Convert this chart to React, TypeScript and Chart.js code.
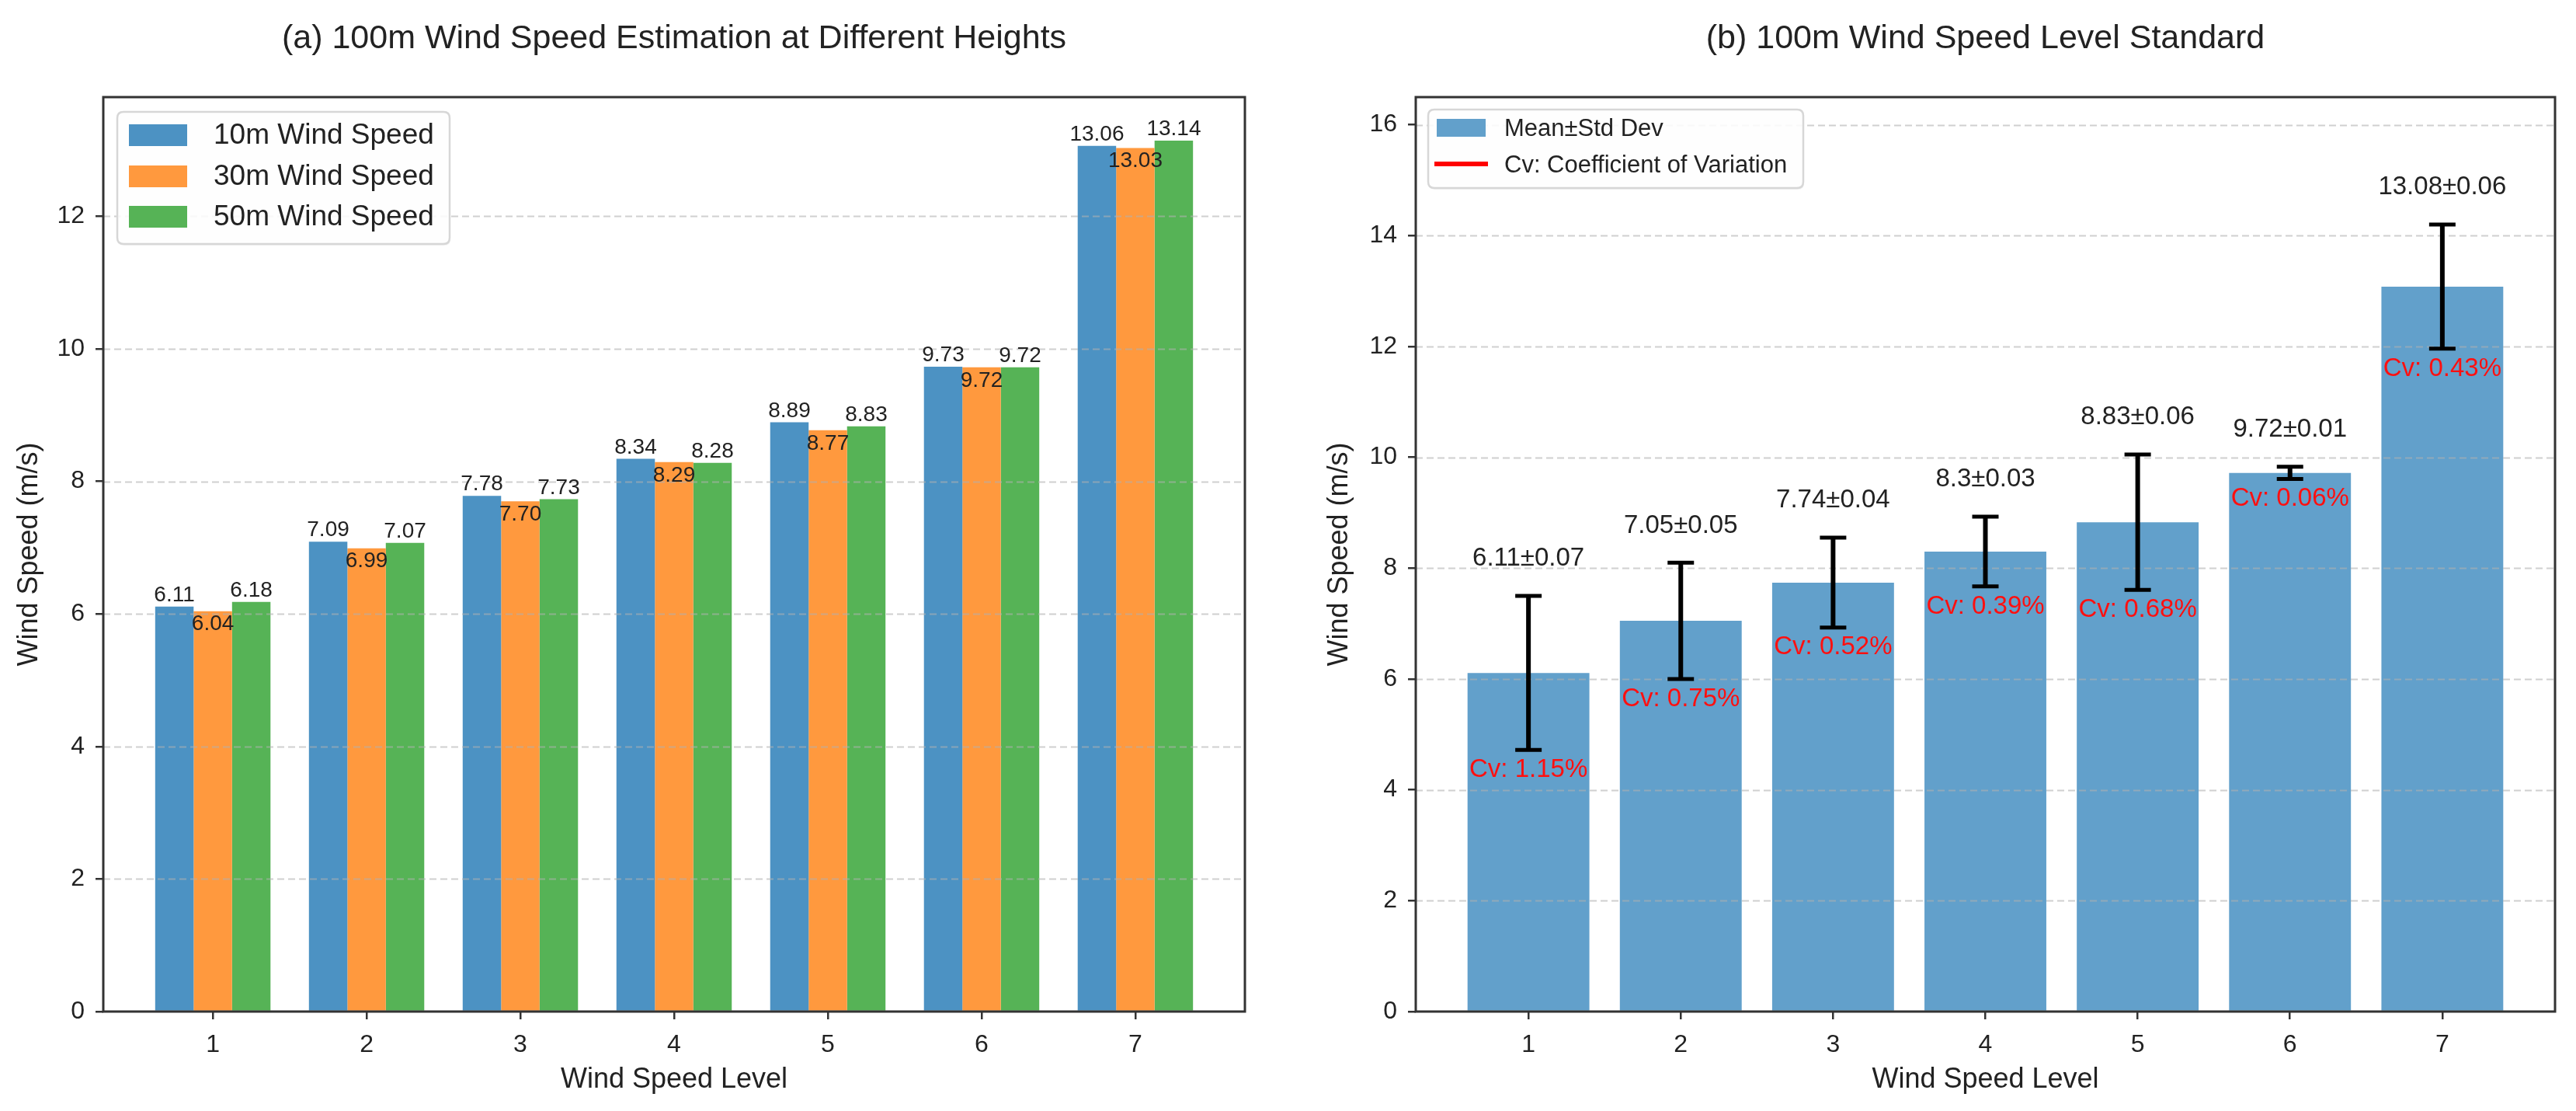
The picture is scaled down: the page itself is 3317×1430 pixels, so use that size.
import React, { useEffect, useRef } from "react";
import { Chart, registerables } from "chart.js";
Chart.register(...registerables);

// ---------- data ----------
const levels = [1, 2, 3, 4, 5, 6, 7];
const speed10 = [6.11, 7.09, 7.78, 8.34, 8.89, 9.73, 13.06];
const speed30 = [6.04, 6.99, 7.7, 8.29, 8.77, 9.72, 13.03];
const speed50 = [6.18, 7.07, 7.73, 8.28, 8.83, 9.72, 13.14];
const seriesNames = ["10m Wind Speed", "30m Wind Speed", "50m Wind Speed"];
const levelMean = [6.11, 7.05, 7.74, 8.3, 8.83, 9.72, 13.08];
const levelStd = [0.07, 0.05, 0.04, 0.03, 0.06, 0.01, 0.06];
const levelErr = [1.39, 1.05, 0.81, 0.63, 1.22, 0.11, 1.12];
const levelCv = [1.15, 0.75, 0.52, 0.39, 0.68, 0.06, 0.43];
const leftYTicks = [0, 2, 4, 6, 8, 10, 12];
const rightYTicks = [0, 2, 4, 6, 8, 10, 12, 14, 16];
const titleA = "(a) 100m Wind Speed Estimation at Different Heights";
const titleB = "(b) 100m Wind Speed Level Standard";
const xTitle = "Wind Speed Level";
const yTitle = "Wind Speed (m/s)";
const legendB = ["Mean±Std Dev", "Cv: Coefficient of Variation"];

// ---------- style ----------
const FONT = '"Liberation Sans", Arial, Helvetica, sans-serif';
const TEXT = "#222222";
const SPINE = "#333333";
const colors3 = ["rgb(76,146,195)", "rgb(255,153,62)", "rgb(86,179,86)"];
const blueB = "rgb(98,160,203)";
const H = 1430;
const W1 = 1713;
const W2 = 1617;
const X2 = 1700;

function drawGrid(chart: any, ticks: number[]) {
  const ctx = chart.ctx;
  const ca = chart.chartArea;
  const ys = chart.scales.y;
  ctx.save();
  ctx.setLineDash([9, 5]);
  ctx.strokeStyle = "rgba(176,176,176,0.6)";
  ctx.lineWidth = 2;
  for (const t of ticks) {
    if (t === 0) continue;
    const py = Math.round(ys.getPixelForValue(t)) + 0.5;
    ctx.beginPath();
    ctx.moveTo(ca.left, py);
    ctx.lineTo(ca.right, py);
    ctx.stroke();
  }
  ctx.restore();
}

function drawFrame(chart: any) {
  const ctx = chart.ctx;
  const ca = chart.chartArea;
  ctx.save();
  ctx.strokeStyle = SPINE;
  ctx.lineWidth = 3;
  ctx.strokeRect(ca.left, ca.top, ca.right - ca.left, ca.bottom - ca.top);
  ctx.restore();
}

function drawTitle(chart: any, text: string) {
  const ctx = chart.ctx;
  const ca = chart.chartArea;
  ctx.save();
  ctx.font = `43px ${FONT}`;
  ctx.fillStyle = TEXT;
  ctx.textAlign = "center";
  ctx.textBaseline = "alphabetic";
  ctx.fillText(text, (ca.left + ca.right) / 2, 62);
  ctx.restore();
}

function roundRect(ctx: any, x: number, y: number, w: number, h: number, r: number) {
  ctx.beginPath();
  ctx.moveTo(x + r, y);
  ctx.lineTo(x + w - r, y);
  ctx.quadraticCurveTo(x + w, y, x + w, y + r);
  ctx.lineTo(x + w, y + h - r);
  ctx.quadraticCurveTo(x + w, y + h, x + w - r, y + h);
  ctx.lineTo(x + r, y + h);
  ctx.quadraticCurveTo(x, y + h, x, y + h - r);
  ctx.lineTo(x, y + r);
  ctx.quadraticCurveTo(x, y, x + r, y);
  ctx.closePath();
}

function legendBox(ctx: any, x: number, y: number, w: number, h: number) {
  ctx.save();
  roundRect(ctx, x + 1, y + 2, w, h, 8);
  ctx.fillStyle = "rgba(0,0,0,0.06)";
  ctx.fill();
  roundRect(ctx, x, y, w, h, 8);
  ctx.fillStyle = "rgba(255,255,255,0.9)";
  ctx.fill();
  ctx.strokeStyle = "rgb(215,215,215)";
  ctx.lineWidth = 2.5;
  ctx.stroke();
  ctx.restore();
}

const leftPlugin = {
  id: "leftDecor",
  afterDatasetsDraw(chart: any) {
    drawGrid(chart, leftYTicks);
    drawFrame(chart);
  },
  afterDraw(chart: any) {
    const ctx = chart.ctx;
    const series = [speed10, speed30, speed50];
    ctx.save();
    ctx.font = `28px ${FONT}`;
    ctx.fillStyle = TEXT;
    ctx.textAlign = "center";
    series.forEach((vals, d) => {
      const meta = chart.getDatasetMeta(d);
      meta.data.forEach((bar: any, i: number) => {
        const txt = vals[i].toFixed(2);
        if (d === 1) {
          ctx.textBaseline = "top";
          ctx.fillText(txt, bar.x, bar.y + 3);
        } else {
          ctx.textBaseline = "alphabetic";
          ctx.fillText(txt, bar.x, bar.y - 7);
        }
      });
    });
    ctx.restore();

    // legend
    legendBox(ctx, 151, 144, 428, 170);
    ctx.save();
    const rows = [174, 227, 279];
    ctx.font = `37px ${FONT}`;
    ctx.textBaseline = "middle";
    ctx.textAlign = "left";
    rows.forEach((cy, k) => {
      ctx.fillStyle = colors3[k];
      ctx.fillRect(166, cy - 14, 75, 28);
      ctx.fillStyle = TEXT;
      ctx.fillText(seriesNames[k], 275, cy + 1);
    });
    ctx.restore();

    drawTitle(chart, titleA);
  },
};

const rightPlugin = {
  id: "rightDecor",
  afterDatasetsDraw(chart: any) {
    drawGrid(chart, rightYTicks);
    const ctx = chart.ctx;
    const xs = chart.scales.x;
    const ys = chart.scales.y;
    ctx.save();
    ctx.strokeStyle = "#000";
    levels.forEach((lv, i) => {
      const px = xs.getPixelForValue(lv);
      const yt = ys.getPixelForValue(levelMean[i] + levelErr[i]);
      const yb = ys.getPixelForValue(levelMean[i] - levelErr[i]);
      ctx.lineWidth = 6;
      ctx.beginPath();
      ctx.moveTo(px, yt);
      ctx.lineTo(px, yb);
      ctx.stroke();
      ctx.lineWidth = 5;
      ctx.beginPath();
      ctx.moveTo(px - 17, yt);
      ctx.lineTo(px + 17, yt);
      ctx.moveTo(px - 17, yb);
      ctx.lineTo(px + 17, yb);
      ctx.stroke();
    });
    ctx.restore();
    drawFrame(chart);
  },
  afterDraw(chart: any) {
    const ctx = chart.ctx;
    const xs = chart.scales.x;
    const ys = chart.scales.y;
    ctx.save();
    ctx.font = `33px ${FONT}`;
    ctx.textAlign = "center";
    ctx.textBaseline = "middle";
    levels.forEach((lv, i) => {
      const px = xs.getPixelForValue(lv);
      const top = levelMean[i] + levelErr[i];
      const bot = levelMean[i] - levelErr[i];
      ctx.fillStyle = TEXT;
      ctx.fillText(`${levelMean[i]}±${levelStd[i].toFixed(2)}`, px, ys.getPixelForValue(top + 0.67));
      ctx.fillStyle = "#ff1010";
      ctx.fillText(`Cv: ${levelCv[i].toFixed(2)}%`, px, ys.getPixelForValue(bot - 0.36));
    });
    ctx.restore();

    // legend
    const ox = -X2;
    legendBox(ctx, 1839 + ox, 141, 483, 101);
    ctx.save();
    ctx.font = `31px ${FONT}`;
    ctx.textBaseline = "middle";
    ctx.textAlign = "left";
    ctx.fillStyle = blueB;
    ctx.fillRect(1850 + ox, 153, 63, 23);
    ctx.strokeStyle = "#ff0000";
    ctx.lineWidth = 6;
    ctx.beginPath();
    ctx.moveTo(1847 + ox, 211);
    ctx.lineTo(1916 + ox, 211);
    ctx.stroke();
    ctx.fillStyle = TEXT;
    ctx.fillText(legendB[0], 1937 + ox, 166);
    ctx.fillText(legendB[1], 1937 + ox, 213);
    ctx.restore();

    drawTitle(chart, titleB);
  },
};

function axisCommon() {
  return {
    grid: {
      display: true,
      drawOnChartArea: false,
      drawTicks: true,
      tickLength: 10,
      color: SPINE,
      lineWidth: 2.5,
      offset: false,
    },
    border: { display: false },
  };
}

function xAxis(min: number, max: number) {
  return {
    type: "linear",
    min,
    max,
    offset: false,
    afterBuildTicks: (s: any) => {
      s.ticks = levels.map((v) => ({ value: v }));
    },
    afterFit: (s: any) => {
      s.height = H - 1302;
    },
    ...axisCommon(),
    ticks: {
      font: { family: FONT, size: 32 },
      color: TEXT,
      padding: 14,
      autoSkip: false,
      maxRotation: 0,
      callback: (v: any) => String(v),
    },
    title: {
      display: true,
      text: xTitle,
      color: TEXT,
      font: { family: FONT, size: 36 },
      padding: { top: 0, bottom: 18 },
    },
  };
}

function yAxis(max: number, ticks: number[], width: number, titlePad: number) {
  return {
    type: "linear",
    min: 0,
    max,
    afterBuildTicks: (s: any) => {
      s.ticks = ticks.map((v) => ({ value: v }));
    },
    afterFit: (s: any) => {
      s.width = width;
    },
    ...axisCommon(),
    ticks: {
      font: { family: FONT, size: 32 },
      color: TEXT,
      padding: 14,
      callback: (v: any) => String(v),
    },
    title: {
      display: true,
      text: yTitle,
      color: TEXT,
      font: { family: FONT, size: 36 },
      padding: { top: titlePad, bottom: 0 },
    },
  };
}

export default function App() {
  const leftRef = useRef<HTMLCanvasElement>(null);
  const rightRef = useRef<HTMLCanvasElement>(null);

  useEffect(() => {
    document.body.style.margin = "0";
    document.body.style.background = "#ffffff";

    const left = new Chart(leftRef.current as HTMLCanvasElement, {
      type: "bar",
      data: {
        datasets: [speed10, speed30, speed50].map((vals, d) => ({
          label: seriesNames[d],
          data: levels.map((x, i) => ({ x, y: vals[i] })),
          backgroundColor: colors3[d],
          borderWidth: 0,
          categoryPercentage: 0.75,
          barPercentage: 1.0,
        })),
      },
      options: {
        responsive: false,
        animation: false,
        devicePixelRatio: 1,
        layout: { padding: { left: 0, right: W1 - 1603, top: 125, bottom: 0 } },
        plugins: { legend: { display: false }, title: { display: false }, tooltip: { enabled: false } },
        scales: {
          x: xAxis(0.2875, 7.7125),
          y: yAxis(13.797, leftYTicks, 133, 16),
        },
      } as any,
      plugins: [leftPlugin],
    });

    const right = new Chart(rightRef.current as HTMLCanvasElement, {
      type: "bar",
      data: {
        datasets: [
          {
            label: legendB[0],
            data: levels.map((x, i) => ({ x, y: levelMean[i] })),
            backgroundColor: blueB,
            borderWidth: 0,
            categoryPercentage: 0.8,
            barPercentage: 1.0,
          },
        ],
      },
      options: {
        responsive: false,
        animation: false,
        devicePixelRatio: 1,
        layout: { padding: { left: 0, right: W2 - 1590, top: 125, bottom: 0 } },
        plugins: { legend: { display: false }, title: { display: false }, tooltip: { enabled: false } },
        scales: {
          x: xAxis(0.26, 7.74),
          y: yAxis(16.5, rightYTicks, 123, 3),
        },
      } as any,
      plugins: [rightPlugin],
    });

    return () => {
      left.destroy();
      right.destroy();
    };
  }, []);

  return (
    <div style={{ position: "relative", width: 3317, height: H, background: "#fff", overflow: "hidden" }}>
      <canvas
        ref={leftRef}
        width={W1}
        height={H}
        style={{ position: "absolute", left: 0, top: 0, width: W1, height: H }}
      />
      <canvas
        ref={rightRef}
        width={W2}
        height={H}
        style={{ position: "absolute", left: X2, top: 0, width: W2, height: H }}
      />
    </div>
  );
}
